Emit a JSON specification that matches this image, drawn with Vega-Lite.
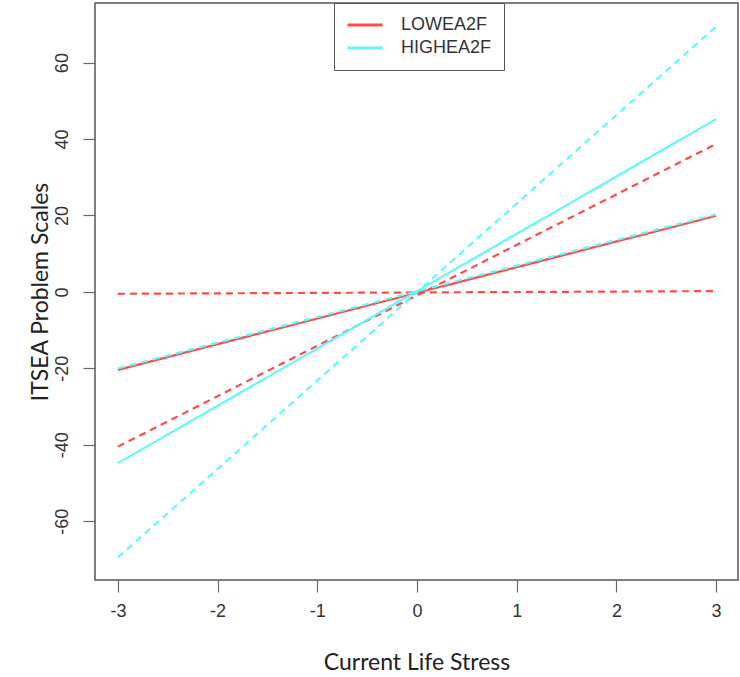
{
  "$schema": "https://vega.github.io/schema/vega-lite/v6.json",
  "width": 643,
  "height": 577,
  "autosize": {"type": "none"},
  "padding": {"left": 95, "top": 3, "right": 2, "bottom": 97},
  "background": "white",
  "config": {
    "view": {"stroke": "#555555", "strokeWidth": 1.5},
    "axis": {"grid": false, "domain": false, "tickColor": "#666666", "tickWidth": 1.2, "tickSize": 12,
             "labelFont": "Liberation Sans", "labelFontSize": 18, "labelColor": "#333333",
             "titleFont": "Lato", "titleFontSize": 23, "titleFontWeight": "normal", "titleColor": "#222222"}
  },
  "data": {
    "values": [
      {"series": "LOWEA2F", "style": "solid", "line": "L1", "x": -3, "y": -20.4},
      {"series": "LOWEA2F", "style": "solid", "line": "L1", "x": 3, "y": 19.9},
      {"series": "LOWEA2F", "style": "dashed", "line": "L2", "x": -3, "y": -40.5},
      {"series": "LOWEA2F", "style": "dashed", "line": "L2", "x": 3, "y": 38.7},
      {"series": "LOWEA2F", "style": "dashed", "line": "L3", "x": -3, "y": -0.5},
      {"series": "LOWEA2F", "style": "dashed", "line": "L3", "x": 3, "y": 0.2},
      {"series": "HIGHEA2F", "style": "solid", "line": "H1", "x": -3, "y": -44.8},
      {"series": "HIGHEA2F", "style": "solid", "line": "H1", "x": 3, "y": 45.2},
      {"series": "HIGHEA2F", "style": "dashed", "line": "H2", "x": -3, "y": -69.5},
      {"series": "HIGHEA2F", "style": "dashed", "line": "H2", "x": 3, "y": 69.4},
      {"series": "HIGHEA2F", "style": "dashed", "line": "H3", "x": -3, "y": -20.0},
      {"series": "HIGHEA2F", "style": "dashed", "line": "H3", "x": 3, "y": 20.3}
    ]
  },
  "mark": {"type": "line", "strokeWidth": 2.2},
  "encoding": {
    "x": {"field": "x", "type": "quantitative",
          "scale": {"domain": [-3.23, 3.22], "nice": false, "zero": false},
          "axis": {"values": [-3, -2, -1, 0, 1, 2, 3], "labelExpr": "'' + datum.value", "labelPadding": 10, "titlePadding": 31, "labelFlush": false},
          "title": "Current Life Stress"},
    "y": {"field": "y", "type": "quantitative",
          "scale": {"domain": [-75.4, 75.6], "nice": false, "zero": false},
          "axis": {"values": [-60, -40, -20, 0, 20, 40, 60], "labelExpr": "'' + datum.value", "labelAngle": -90, "labelPadding": 12, "titlePadding": 1, "labelFlush": false},
          "title": "ITSEA Problem Scales"},
    "color": {"field": "series", "type": "nominal",
              "scale": {"domain": ["LOWEA2F", "HIGHEA2F"], "range": ["#ff4a4a", "#62f8f8"]},
              "legend": {"orient": "none", "legendX": 239, "legendY": 0, "title": null,
                         "symbolType": "stroke", "symbolSize": 1225, "symbolStrokeWidth": 3, "clipHeight": 20,
                         "labelFont": "Liberation Sans", "labelFontSize": 18, "labelColor": "#333333",
                         "labelOffset": 17, "rowPadding": 3, "padding": 12,
                         "strokeColor": "#555555", "fillColor": "white"}},
    "strokeDash": {"field": "style", "type": "nominal",
                   "scale": {"domain": ["solid", "dashed"], "range": [[1, 0], [7, 5]]},
                   "legend": null},
    "detail": {"field": "line"},
    "order": {"field": "x"}
  }
}
